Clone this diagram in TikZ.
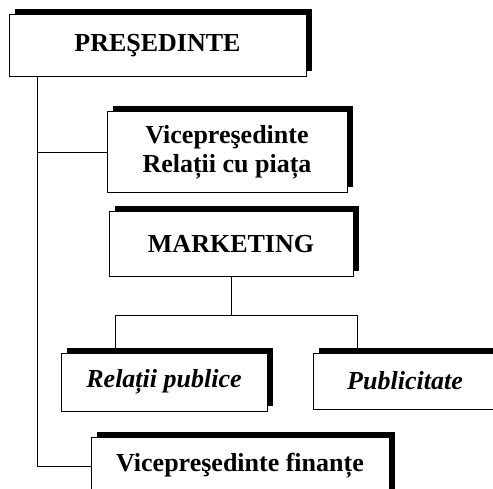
\documentclass[tikz,border=0pt]{standalone}
\usepackage{fontspec}
\setmainfont{Liberation Serif}
\usetikzlibrary{calc, shadows}

\begin{document}
\begin{tikzpicture}[
    x=1pt, y=-1pt,
    unit/.style={rectangle, draw=black, line width=1pt, fill=white, align=center,
                 inner sep=0pt, font=\fontsize{26}{29}\selectfont\bfseries,
                 drop shadow={shadow xshift=5.5pt, shadow yshift=5.5pt, opacity=1, fill=black}},
    subunit/.style={unit, font=\fontsize{26}{29}\selectfont\bfseries\itshape},
    link/.style={draw=black, line width=1pt}
]
    \clip (0,0) rectangle (493,489);
    \node[unit, minimum width=297pt, minimum height=62pt] (pres) at (157.5,46) {PREŞEDINTE};
    \node[unit, minimum width=240pt, minimum height=81pt] (vrel) at (227,152.5) {Vicepreşedinte\\Relații cu piața};
    \node[unit, minimum width=244pt, minimum height=65pt] (mkt) at (231,244.5) {MARKETING};
    \node[subunit, minimum width=206pt, minimum height=58pt] (relp) at (164,382) {Relații publice};
    \node[subunit, minimum width=184pt, minimum height=56pt] (publ) at (405,381) {Publicitate};
    \node[unit, minimum width=298pt, minimum height=58pt] (vfin) at (240,466) {Vicepreşedinte finanțe};

    % president line
    \coordinate (trunk) at ($(pres.south west)+(29,0)$);
    \draw[link] (trunk) |- (vfin.west);
    \draw[link] (trunk |- vrel.west) -- (vrel.west);
    % marketing branches
    \draw[link] (mkt.south) -- ++(0,38) coordinate (fork);
    \draw[link] ($(relp.north west)+(55,0)$) |- (fork) -| ($(publ.north west)+(45,0)$);
\end{tikzpicture}
\end{document}
